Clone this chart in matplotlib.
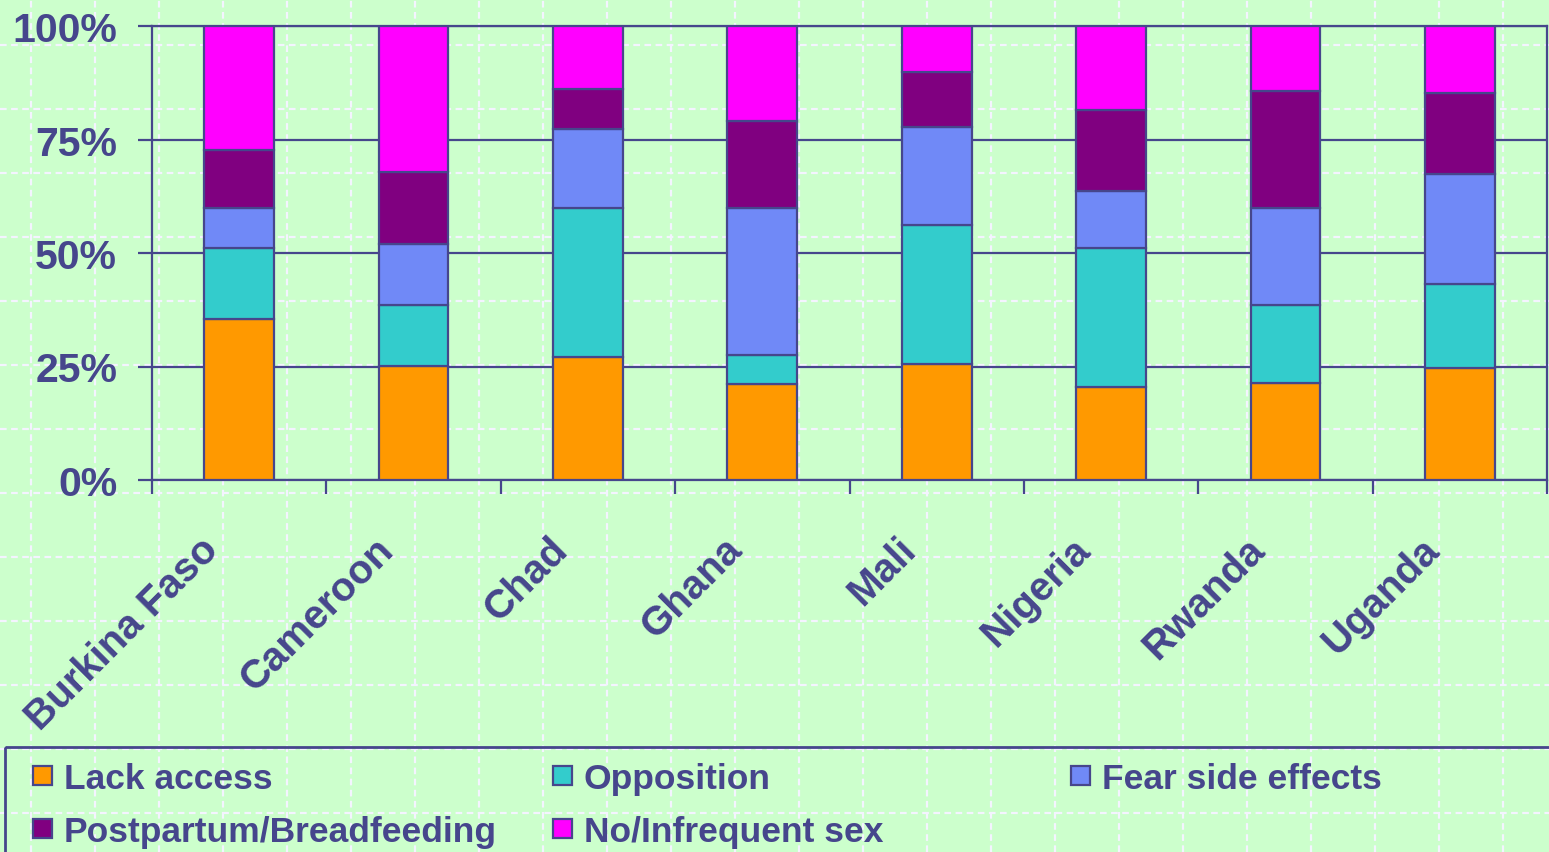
import numpy as np
import matplotlib
matplotlib.use("Agg")
import matplotlib.pyplot as plt
import matplotlib.transforms as mtransforms
from matplotlib.patches import Rectangle

# Data (percent of women with unmet need, by reason)
countries = ['Burkina Faso', 'Cameroon', 'Chad', 'Ghana', 'Mali', 'Nigeria', 'Rwanda', 'Uganda']
lack_access = [35.5, 25.1, 27.1, 21.1, 25.6, 20.5, 21.4, 24.7]
opposition = [15.6, 13.4, 32.8, 6.4, 30.6, 30.6, 17.1, 18.5]
fear_side_effects = [8.8, 13.5, 17.4, 32.4, 21.6, 12.6, 21.4, 24.2]
postpartum = [12.8, 15.8, 8.8, 19.2, 12.1, 17.8, 25.8, 17.8]
infrequent_sex = [27.3, 32.2, 13.9, 20.9, 10.1, 18.5, 14.3, 14.8]

series_names = ['Lack access', 'Opposition', 'Fear side effects',
                'Postpartum/Breadfeeding', 'No/Infrequent sex']
series_colors = ['#FF9900', '#33CCCC', '#7089F7', '#800080', '#FF00FF']
y_ticks = [0, 25, 50, 75, 100]
y_tick_labels = ['0%', '25%', '50%', '75%', '100%']

navy = '#46468C'
bg_green = '#CCFFCC'
W, H = 1549, 853

plt.rcParams['font.family'] = ['Liberation Sans', 'DejaVu Sans']
plt.rcParams['font.weight'] = 'bold'

fig = plt.figure(figsize=(W / 100, H / 100), dpi=100)
fig.patch.set_facecolor(bg_green)

# slide background: dashed light grid over the whole page
bg = fig.add_axes([0, 0, 1, 1], zorder=-1)
bg.set_xlim(0, W)
bg.set_ylim(H, 0)
bg.axis('off')
for gx in np.arange(31, W, 64):
    bg.axvline(gx, color='#F4F4FF', lw=1.6, ls=(0, (3, 2)))
for gy in np.arange(46, H, 64):
    bg.axhline(gy, color='#F4F4FF', lw=1.6, ls=(0, (3, 2)))

ax = fig.add_axes([152 / W, 1 - 481 / H, (1547 - 152) / W, (481 - 27) / H])
ax.set_facecolor('none')

data = [lack_access, opposition, fear_side_effects, postpartum, infrequent_sex]
x = np.arange(len(countries))
bottom = np.zeros(len(countries))
for vals, name, col in zip(data, series_names, series_colors):
    ax.bar(x, vals, width=0.4, bottom=bottom, color=col, edgecolor=navy,
           linewidth=1.6, label=name, zorder=3)
    bottom += np.array(vals)

ax.set_xlim(-0.5, len(countries) - 0.5)
ax.set_ylim(0, 100)
ax.set_yticks(y_ticks)
ax.set_yticklabels(y_tick_labels)
ax.yaxis.grid(True, color=navy, lw=1.6)
ax.set_axisbelow(True)

# x ticks at category boundaries, labels at category centres
ax.set_xticks(np.arange(len(countries) + 1) - 0.5)
ax.set_xticklabels([])
ax.set_xticks(x, minor=True)
ax.set_xticklabels(countries, minor=True, rotation=45, ha='right', va='top',
                   rotation_mode='anchor')
ax.tick_params(axis='x', which='minor', length=0, pad=22, labelsize=29,
               labelcolor=navy)
ax.tick_params(axis='x', which='major', length=10, width=1.6, color=navy)
ax.tick_params(axis='y', length=10, width=1.6, color=navy, pad=15,
               labelsize=29.5, labelcolor=navy)
shift = mtransforms.ScaledTranslation(-0.40, -0.19, fig.dpi_scale_trans)
for lab in ax.get_xticklabels(minor=True):
    lab.set_transform(lab.get_transform() + shift)
for s in ax.spines.values():
    s.set_color(navy)
    s.set_linewidth(1.6)

# legend box along the bottom of the page
leg_ax = fig.add_axes([0, 0, 1, 1], zorder=2)
leg_ax.set_xlim(0, W)
leg_ax.set_ylim(H, 0)
leg_ax.axis('off')
leg_ax.add_patch(Rectangle((5, 748), W + 10, 120, facecolor='none',
                           edgecolor=navy, lw=2, clip_on=False))
marker_x = [33, 553, 1071, 33, 553]
text_x = [64, 584, 1102, 64, 584]
base_y = [789, 789, 789, 842, 842]
for name, col, mx, tx, by in zip(series_names, series_colors, marker_x, text_x, base_y):
    leg_ax.add_patch(Rectangle((mx, by - 22), 19, 19, facecolor=col,
                               edgecolor=navy, lw=1.6))
    leg_ax.text(tx, by, name, color=navy, fontsize=25.5, fontweight='bold',
                ha='left', va='baseline')

fig.savefig('out.png', dpi=100, facecolor=fig.get_facecolor())
